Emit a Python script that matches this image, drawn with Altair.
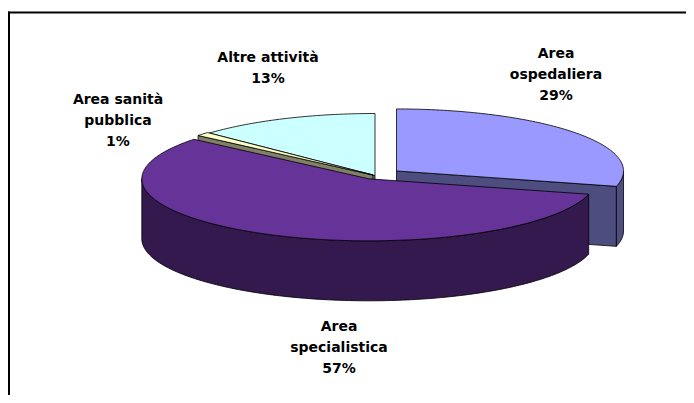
import math
import altair as alt
import pandas as pd

# ---------------- data ----------------
categories = ["Area ospedaliera", "Area specialistica", "Area sanità pubblica", "Altre attività"]
label_names = ["Area\nospedaliera", "Area\nspecialistica", "Area sanità\npubblica", "Altre attività"]
shares = [29, 57, 1, 13]

# ---------------- styles / layout ----------------
top_colors = ["#9999FF", "#663399", "#FFFFCC", "#CCFFFF"]
side_colors = ["#4D4D80", "#33194D", "#808066", "#668080"]
explode = [0.12, 0.06, 0.012, 0.0]
draw_order = [3, 2, 0, 1]          # back to front
label_pos = [(556, 54), (339, 327), (118, 100), (268, 58)]   # first-line centres

CX, CY, RX, RY, DEPTH = 375, 175.5, 227, 62, 60
W, H = 678, 387


def pt(ox, oy, a, dy=0.0):
    r = math.radians(a)
    return (ox + RX * math.sin(r), oy - RY * math.cos(r) + dy)


def arc(ox, oy, a0, a1, dy=0.0):
    n = max(2, int(abs(a1 - a0)) + 2)
    return [pt(ox, oy, a0 + (a1 - a0) * i / (n - 1), dy) for i in range(n)]


total = float(sum(shares))
starts = []
acc = 0.0
for s in shares:
    starts.append(acc / total * 360.0)
    acc += s

polys = []  # (points, color)
for k in draw_order:
    a0 = starts[k]
    a1 = a0 + shares[k] / total * 360.0
    mid = math.radians((a0 + a1) / 2)
    ox = CX + explode[k] * RX * math.sin(mid)
    oy = CY - explode[k] * RY * math.cos(mid)
    # radial walls facing the viewer
    for a, vis in ((a0, math.sin(math.radians(a0)) < -1e-6),
                   (a1, math.sin(math.radians(a1)) > 1e-6)):
        if vis:
            p = pt(ox, oy, a)
            polys.append(([(ox, oy), p, (p[0], p[1] + DEPTH), (ox, oy + DEPTH)], side_colors[k]))
    # outer wall (front half only)
    b0, b1 = max(a0, 90.0), min(a1, 270.0)
    if b1 > b0:
        top = arc(ox, oy, b0, b1)
        bot = arc(ox, oy, b0, b1, DEPTH)
        polys.append((top + bot[::-1], side_colors[k]))
    # top face
    polys.append(([(ox, oy)] + arc(ox, oy, a0, a1), top_colors[k]))

xs = alt.Scale(domain=[8, 8 + W], nice=False, zero=False)
ys = alt.Scale(domain=[8, 8 + H], nice=False, zero=False, reverse=True)

layers = []
for pid, (pts, col) in enumerate(polys):
    pts = pts + [pts[0]]
    df = pd.DataFrame({"x": [p[0] for p in pts], "y": [p[1] for p in pts], "i": list(range(len(pts)))})
    layers.append(
        alt.Chart(df).mark_line(filled=True, fill=col, stroke="black", strokeWidth=0.8,
                                strokeJoin="round", opacity=1).encode(
            x=alt.X("x:Q", scale=xs, axis=None),
            y=alt.Y("y:Q", scale=ys, axis=None),
            order="i:Q",
        )
    )

labels = pd.DataFrame({
    "text": [f"{n}\n{v}%" for n, v in zip(label_names, shares)],
    "x": [p[0] for p in label_pos],
    "y": [p[1] for p in label_pos],
})
text = alt.Chart(labels).mark_text(
    font="DejaVu Sans", fontSize=14, fontWeight="bold", color="black",
    align="center", baseline="middle", lineBreak="\n", lineHeight=21,
).encode(x=alt.X("x:Q", scale=xs, axis=None), y=alt.Y("y:Q", scale=ys, axis=None), text="text:N")

one = pd.DataFrame({"a": [0]})
frame_top = alt.Chart(one).mark_rule(color="black", strokeWidth=2).encode(
    x=alt.value(0), x2=alt.value(W), y=alt.value(4.5))
frame_left = alt.Chart(one).mark_rule(color="black", strokeWidth=2).encode(
    x=alt.value(1), y=alt.value(3.5), y2=alt.value(H))

chart = alt.layer(*layers, text, frame_top, frame_left).properties(
    width=W, height=H, autosize=alt.AutoSizeParams(type="none"), padding=0,
    background="white",
).configure_view(stroke=None)

chart.save("out.html", embed_options={"renderer": "svg", "actions": False})
